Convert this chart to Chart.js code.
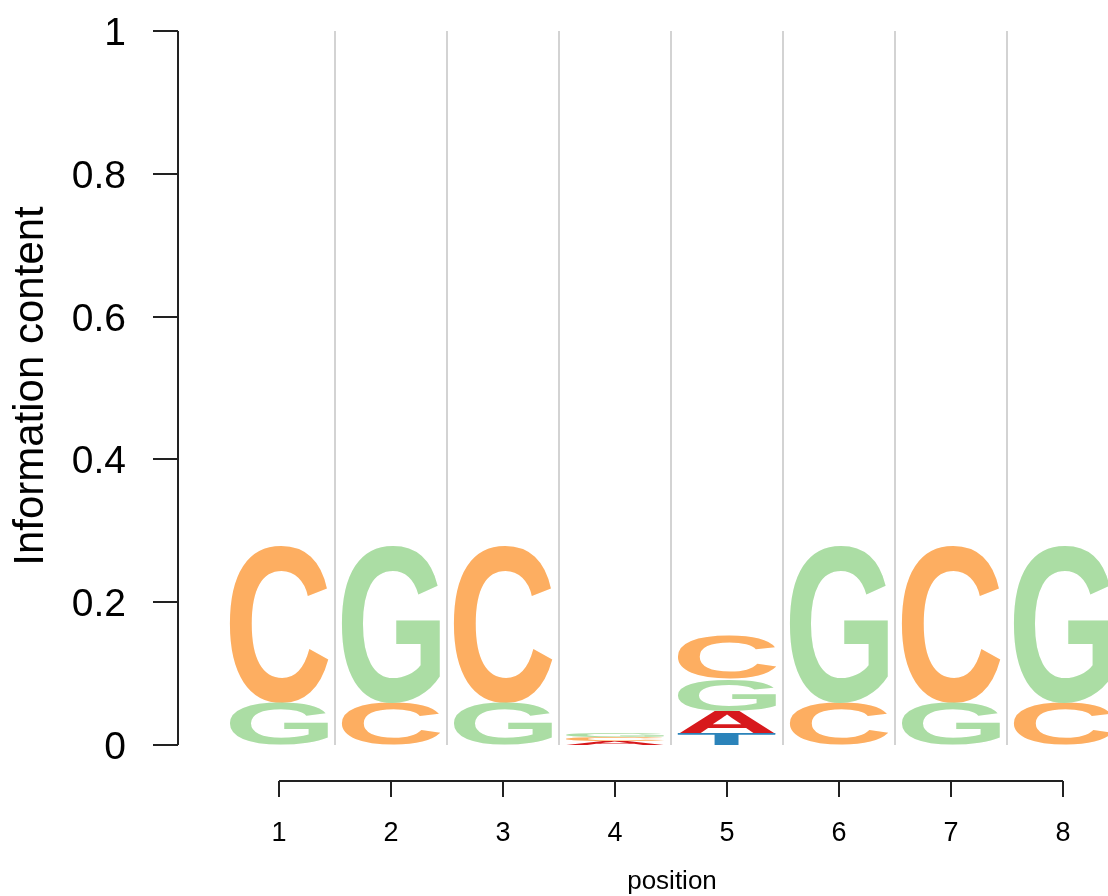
<!DOCTYPE html>
<html>
<head>
<meta charset="utf-8">
<script src="https://cdn.jsdelivr.net/npm/chart.js@4/dist/chart.umd.min.js"></script>
<style>
  html, body { margin: 0; padding: 0; background: #ffffff; overflow: hidden; }
  #wrap { width: 1130px; height: 896px; }
  canvas { display: block; }
</style>
</head>
<body>
<div id="wrap"><canvas id="logo" width="1130" height="896"></canvas></div>
<script>
// ---- data (information content, bits) ----
const positions = ['1', '2', '3', '4', '5', '6', '7', '8'];
const icA = [0, 0, 0, 0.0050, 0.0322, 0, 0, 0];
const icC = [0.2200, 0.0588, 0.2200, 0.0055, 0.0616, 0.0588, 0.2200, 0.0588];
const icG = [0.0588, 0.2200, 0.0588, 0.0060, 0.0448, 0.2200, 0.0588, 0.2200];
const icT = [0, 0, 0, 0, 0.0154, 0, 0, 0];
const yTicks = [0, 0.2, 0.4, 0.6, 0.8, 1];
const yTickLabels = ['0', '0.2', '0.4', '0.6', '0.8', '1'];
const xTitle = 'position';
const yTitle = 'Information content';

const letters = ['A', 'C', 'G', 'T'];
const heights = { A: icA, C: icC, G: icG, T: icT };
const colors = { A: '#D7191C', C: '#FDAE61', G: '#ABDDA4', T: '#2B83BA' };

// stack letters per position: smallest at the bottom, largest on top
const ranges = { A: [], C: [], G: [], T: [] };
positions.forEach((p, i) => {
  const order = letters.slice().sort((a, b) => heights[a][i] - heights[b][i]);
  let acc = 0;
  order.forEach(L => {
    const h = heights[L][i];
    if (h > 0) { ranges[L][i] = [acc, acc + h]; acc += h; }
    else { ranges[L][i] = null; }
  });
});

const datasets = letters.map(L => ({
  label: L,
  data: ranges[L],
  backgroundColor: 'rgba(0,0,0,0)',
  borderWidth: 0,
  grouped: false,
  barPercentage: 0.88,
  categoryPercentage: 1.0,
  letterColor: colors[L]
}));

const FONT = '"Liberation Sans", Arial, Helvetica, sans-serif';

function drawGlyph(ctx, ch, color, left, top, w, h) {
  if (!(h > 0.3) || !(w > 0)) return;
  ctx.save();
  ctx.font = 'bold 200px ' + FONT;
  ctx.textAlign = 'left';
  ctx.textBaseline = 'alphabetic';
  const m = ctx.measureText(ch);
  const iw = m.actualBoundingBoxLeft + m.actualBoundingBoxRight;
  const ih = m.actualBoundingBoxAscent + m.actualBoundingBoxDescent;
  ctx.translate(left, top);
  ctx.scale(w / iw, h / ih);
  ctx.fillStyle = color;
  ctx.fillText(ch, m.actualBoundingBoxLeft, m.actualBoundingBoxAscent);
  ctx.restore();
}

const logoPlugin = {
  id: 'logoPlugin',
  beforeDatasetsDraw(chart) {
    const ctx = chart.ctx;
    const xs = chart.scales.x, ys = chart.scales.y;
    const top = ys.getPixelForValue(1), bottom = ys.getPixelForValue(0);
    ctx.save();
    ctx.strokeStyle = '#d3d3d3';
    ctx.lineWidth = 2;
    for (let i = 0; i < positions.length - 1; i++) {
      const xm = (xs.getPixelForValue(i) + xs.getPixelForValue(i + 1)) / 2;
      ctx.beginPath();
      ctx.moveTo(Math.round(xm), top);
      ctx.lineTo(Math.round(xm), bottom);
      ctx.stroke();
    }
    ctx.restore();
  },
  afterDatasetsDraw(chart) {
    const ctx = chart.ctx;
    chart.data.datasets.forEach((ds, di) => {
      const meta = chart.getDatasetMeta(di);
      meta.data.forEach((el, j) => {
        if (!ds.data[j]) return;
        const p = el.getProps(['x', 'y', 'base', 'width'], true);
        const t = Math.min(p.y, p.base), b = Math.max(p.y, p.base);
        drawGlyph(ctx, ds.label, ds.letterColor, p.x - p.width / 2, t, p.width, b - t);
      });
    });
  },
  afterDraw(chart) {
    const ctx = chart.ctx;
    const xs = chart.scales.x, ys = chart.scales.y;
    const area = chart.chartArea;
    ctx.save();
    ctx.strokeStyle = '#222';
    ctx.fillStyle = '#000';
    ctx.lineWidth = 2;

    // y axis (detached, R style)
    const ax = area.left - 45;
    ctx.beginPath();
    ctx.moveTo(ax, ys.getPixelForValue(yTicks[0]));
    ctx.lineTo(ax, ys.getPixelForValue(yTicks[yTicks.length - 1]));
    ctx.stroke();
    ctx.font = '39px ' + FONT;
    ctx.textAlign = 'right';
    ctx.textBaseline = 'alphabetic';
    yTicks.forEach((v, i) => {
      const py = Math.round(ys.getPixelForValue(v));
      ctx.beginPath();
      ctx.moveTo(ax, py);
      ctx.lineTo(ax - 25, py);
      ctx.stroke();
      ctx.fillText(yTickLabels[i], ax - 52, py + 14);
    });

    // x axis (detached, R style)
    const ay = area.bottom + 36;
    const x0 = xs.getPixelForValue(0), x1 = xs.getPixelForValue(positions.length - 1);
    ctx.beginPath();
    ctx.moveTo(x0, ay);
    ctx.lineTo(x1, ay);
    ctx.stroke();
    ctx.font = '27px ' + FONT;
    ctx.textAlign = 'center';
    positions.forEach((lab, i) => {
      const px = Math.round(xs.getPixelForValue(i));
      ctx.beginPath();
      ctx.moveTo(px, ay);
      ctx.lineTo(px, ay + 16);
      ctx.stroke();
      ctx.fillText(lab, px, ay + 60);
    });

    // axis titles
    ctx.font = '26px ' + FONT;
    ctx.textAlign = 'center';
    ctx.fillText(xTitle, (area.left + area.right) / 2 + 1, 889);

    ctx.save();
    ctx.font = '42px ' + FONT;
    ctx.translate(43, (ys.getPixelForValue(0) + ys.getPixelForValue(1)) / 2 - 2);
    ctx.rotate(-Math.PI / 2);
    ctx.textAlign = 'center';
    ctx.textBaseline = 'alphabetic';
    ctx.fillText(yTitle, 0, 0);
    ctx.restore();

    ctx.restore();
  }
};

new Chart(document.getElementById('logo'), {
  type: 'bar',
  data: { labels: positions, datasets: datasets },
  options: {
    responsive: false,
    animation: false,
    devicePixelRatio: 1,
    layout: { padding: { left: 223, right: 11, top: 31, bottom: 151 } },
    plugins: { legend: { display: false }, tooltip: { enabled: false } },
    scales: {
      x: { display: false, offset: true },
      y: { display: false, min: 0, max: 1 }
    }
  },
  plugins: [logoPlugin]
});
</script>
</body>
</html>
